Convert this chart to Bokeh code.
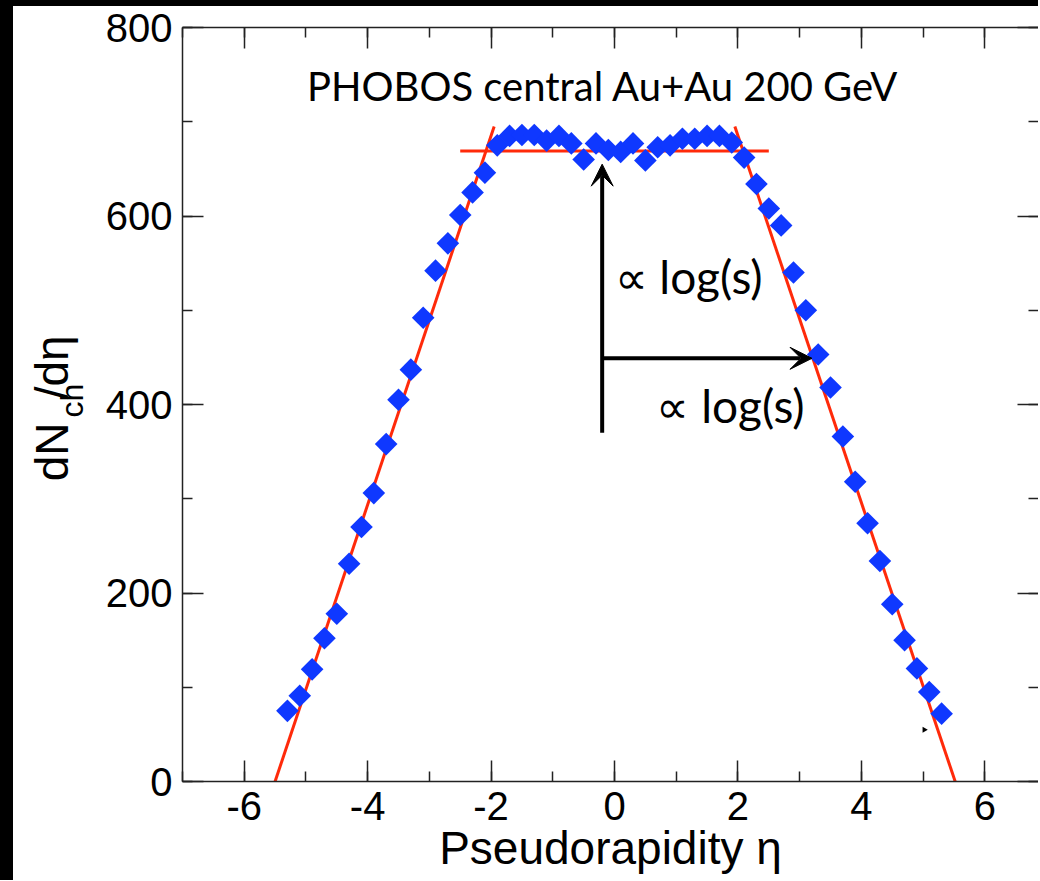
import math
from bokeh.plotting import figure
from bokeh.models import (Range1d, LinearAxis, Label, Arrow, VeeHead, Spacer,
                          SingleIntervalTicker, ColumnDataSource)
from bokeh.layouts import row, column
from bokeh.core.properties import value
from bokeh.embed import file_html
from bokeh.resources import INLINE

# ---------------- data ----------------
eta = [-5.3, -5.1, -4.9, -4.7, -4.5, -4.3, -4.1, -3.9, -3.7, -3.5, -3.3, -3.1,
       -2.9, -2.7, -2.5, -2.3, -2.1, -1.9, -1.7, -1.5, -1.3, -1.1, -0.9, -0.7,
       -0.5, -0.3, -0.1, 0.1, 0.3, 0.5, 0.7, 0.9, 1.1, 1.3, 1.5, 1.7, 1.9, 2.1,
       2.3, 2.5, 2.7, 2.9, 3.1, 3.3, 3.5, 3.7, 3.9, 4.1, 4.3, 4.5, 4.7, 4.9,
       5.1, 5.3]
dndeta = [75, 91, 119, 152, 178, 231, 270, 306, 358, 405, 437, 492,
          542, 571, 601, 625, 646, 675, 685, 686, 686, 680, 685, 677,
          660, 677, 670, 668, 677, 659, 673, 675, 682, 682, 685, 685, 678, 662,
          634, 608, 590, 540, 500, 453, 418, 366, 318, 274, 234, 188, 150, 120,
          95, 72]

# trapezoid fit lines
fit_left_x = [-5.5, -1.95]
fit_left_y = [0, 695]
fit_right_x = [1.95, 5.52]
fit_right_y = [695, 0]
plateau_x = [-2.5, 2.5]
plateau_y = [669, 669]

# arrows (start -> end)
arrow_up = dict(x0=-0.2, y0=370, x1=-0.2, y1=655)
arrow_right = dict(x0=-0.2, y0=449, x1=3.2, y1=449)
small_head_x = [5.02]
small_head_y = [55]

x_tick_values = [-6, -4, -2, 0, 2, 4, 6]
x_tick_labels = ["-6", "-4", "-2", "0", "2", "4", "6"]
y_tick_values = [0, 200, 400, 600, 800]
y_tick_labels = ["0", "200", "400", "600", "800"]

title_text = "PHOBOS central Au+Au 200 GeV"
arrow_text = "\u221d log(s)"
x_title = "Pseudorapidity \u03b7"

# ---------------- main figure ----------------
TOP_STRIP, LEFT_STRIP, LAB_W = 6, 13, 80
TOTAL_W, TOTAL_H = 1038, 880
W = TOTAL_W - LEFT_STRIP - LAB_W
H = TOTAL_H - TOP_STRIP

p = figure(width=W, height=H, output_backend="svg", toolbar_location=None,
           x_range=Range1d(-7, 6.87), y_range=Range1d(0, 800),
           x_axis_location=None, y_axis_location=None,
           min_border_left=89, min_border_right=0, min_border_top=21,
           min_border_bottom=99)
p.outline_line_color = None
p.grid.visible = False
p.background_fill_color = "white"
p.border_fill_color = "white"

AX = "#222222"
TICKFONT = "Liberation Sans"


def style_axis(ax, labels, values):
    ax.axis_line_color = AX
    ax.axis_line_width = 1.5
    ax.major_tick_line_color = AX
    ax.minor_tick_line_color = AX
    ax.major_tick_line_width = 1.5
    ax.minor_tick_line_width = 1.5
    ax.major_tick_out = 0
    ax.minor_tick_out = 0
    ax.major_tick_in = 21
    ax.minor_tick_in = 10
    if labels is not None:
        ax.major_label_text_font = TICKFONT
        ax.major_label_text_font_size = "40px"
        ax.major_label_text_color = "black"
        ax.major_label_standoff = 10
        ax.major_label_overrides = {v: s for v, s in zip(values, labels)}
    else:
        ax.major_label_text_font_size = "1px"
        ax.major_label_standoff = 0
        ax.major_label_overrides = {v: "" for v in values}


xt = SingleIntervalTicker(interval=2, num_minor_ticks=2)
yt = SingleIntervalTicker(interval=200, num_minor_ticks=2)

bottom = LinearAxis(ticker=xt)
style_axis(bottom, x_tick_labels, x_tick_values)
bottom.axis_label = x_title
bottom.axis_label_text_font = TICKFONT
bottom.axis_label_text_font_size = "46px"
bottom.axis_label_text_font_style = "normal"
bottom.axis_label_text_color = "black"
bottom.axis_label_standoff = -1
p.add_layout(bottom, "below")

top = LinearAxis(ticker=xt)
style_axis(top, None, x_tick_values)
p.add_layout(top, "above")

left = LinearAxis(ticker=yt)
style_axis(left, y_tick_labels, y_tick_values)
p.add_layout(left, "left")

right = LinearAxis(ticker=yt)
style_axis(right, None, y_tick_values)
right.axis_line_color = None
p.add_layout(right, "right")

# fit lines
RED = "#ff2a0a"
p.line(fit_left_x, fit_left_y, line_color=RED, line_width=3)
p.line(fit_right_x, fit_right_y, line_color=RED, line_width=3)
p.line(plateau_x, plateau_y, line_color=RED, line_width=3)

# data points (rotated squares = diamonds)
src = ColumnDataSource(dict(x=eta, y=dndeta))
p.scatter("x", "y", source=src, marker="square", angle=math.pi / 4, size=16,
          fill_color="#0f38ff", line_color=None)

# arrows
for a in (arrow_up, arrow_right):
    p.add_layout(Arrow(x_start=a["x0"], y_start=a["y0"], x_end=a["x1"], y_end=a["y1"],
                       line_color="black", line_width=4,
                       end=VeeHead(size=22, fill_color="black", line_color="black")))

p.scatter(small_head_x, small_head_y, marker="triangle", angle=-math.pi / 2, size=6,
          fill_color="black", line_color=None)

# texts in the plot
GILL = "Lato"
p.add_layout(Label(x=-0.19, y=738, text=title_text,
                   text_font=GILL, text_font_size="40px", text_align="center",
                   text_baseline="middle", text_color="black"))
p.add_layout(Label(x=0.0, y=536, text=arrow_text, text_font=GILL,
                   text_font_size="46px", text_align="left", text_baseline="middle",
                   text_color="black"))
p.add_layout(Label(x=0.68, y=399, text=arrow_text, text_font=GILL,
                   text_font_size="46px", text_align="left", text_baseline="middle",
                   text_color="black"))

# ---------------- y-axis title panel (pixel coordinates) ----------------
lab = figure(width=LAB_W, height=H, output_backend="svg", toolbar_location=None,
             x_range=Range1d(0, LAB_W), y_range=Range1d(0, H),
             x_axis_location=None, y_axis_location=None, min_border=0)
lab.outline_line_color = None
lab.grid.visible = False
lab.border_fill_color = "white"
lab.background_fill_color = "white"

YL = dict(angle=math.pi / 2, text_font=value(TICKFONT), text_align="left",
          text_baseline="alphabetic", text_color="black")
lab.text(x=[38], y=[348], text=["dN"], text_font_size="46px", **YL)
lab.text(x=[58], y=[422], text=["ch"], text_font_size="32px", **YL)
lab.text(x=[38], y=[443], text=["/d\u03b7"], text_font_size="46px", **YL)

# ---------------- page layout with black strips ----------------
left_strip = Spacer(width=LEFT_STRIP, height=H, styles={"background-color": "black"})
top_strip = Spacer(width=TOTAL_W, height=TOP_STRIP, styles={"background-color": "black"})
layout = column(top_strip, row(left_strip, lab, p, spacing=0), spacing=0)

open("out.html", "w").write(file_html(layout, INLINE))
